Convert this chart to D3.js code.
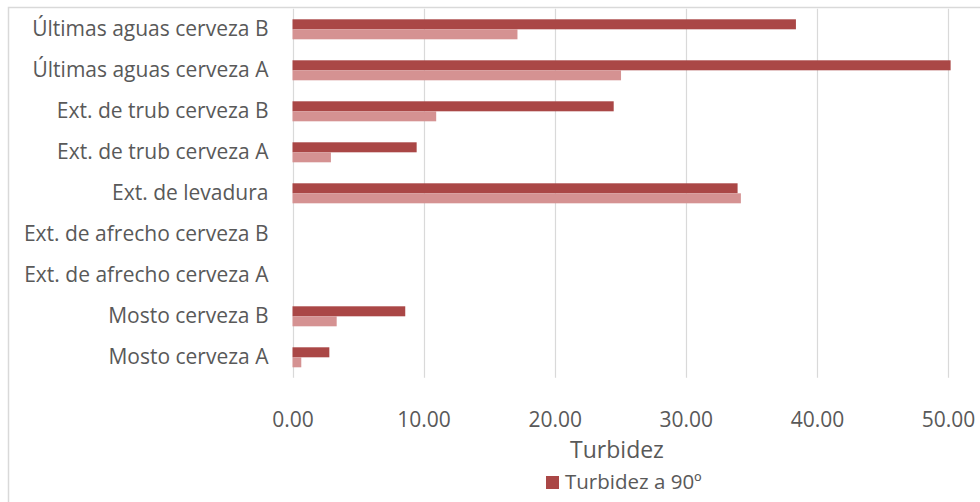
<!DOCTYPE html>
<html>
<head>
<meta charset="utf-8">
<script src="https://cdn.jsdelivr.net/npm/d3@7"></script>
<style>
  body { margin: 0; background: #fff; }
  svg { display: block; font-family: "Open Sans", "Noto Sans", sans-serif; }
</style>
</head>
<body>
<div id="chart"></div>
<script>
// categories, bottom to top as in the source sheet
var categories = [
  "Mosto cerveza A",
  "Mosto cerveza B",
  "Ext. de afrecho cerveza A",
  "Ext. de afrecho cerveza B",
  "Ext. de levadura",
  "Ext. de trub cerveza A",
  "Ext. de trub cerveza B",
  "Últimas aguas cerveza A",
  "Últimas aguas cerveza B"
];

// dark series (the one in the legend)
var turbidez90 = [2.81, 8.6, 0, 0, 33.95, 9.47, 24.5, 50.2, 38.4];
// light series
var turbidezB = [0.67, 3.37, 0, 0, 34.2, 2.93, 10.96, 25.06, 17.16];

var seriesNames = ["Turbidez a 90º", "Turbidez a 180º"];
var seriesColors = ["#AA4746", "#D59292"];
var xTicks = [0, 10, 20, 30, 40, 50];

var W = 980, H = 502;
var margin = {top: 8.8, left: 292.5, right: 32, bottom: 124.2};

var svg = d3.select("#chart")
  .append("svg")
    .attr("width", W)
    .attr("height", H);

// chart frame (runs off the window on the right and bottom)
svg.append("rect")
  .attr("x", 8.5)
  .attr("y", 7.5)
  .attr("width", 1000)
  .attr("height", 600)
  .attr("fill", "none")
  .attr("stroke", "#D9D9D9")
  .attr("stroke-width", 1.5);

var x = d3.scaleLinear()
  .domain([0, 50])
  .range([margin.left, W - margin.right]);

var y = d3.scaleBand()
  .domain(categories)
  .range([H - margin.bottom, margin.top]);

var ySub = d3.scaleBand()
  .domain(seriesNames)
  .range([0, y.bandwidth()])
  .paddingOuter(1.05);

// gridlines
svg.append("g")
  .selectAll("line")
  .data(xTicks)
  .enter()
  .append("line")
    .attr("x1", function(d) { return Math.round(x(d)) + 0.5; })
    .attr("x2", function(d) { return Math.round(x(d)) + 0.5; })
    .attr("y1", margin.top)
    .attr("y2", H - margin.bottom)
    .attr("stroke", "#D9D9D9")
    .attr("stroke-width", 1.2);

// x axis labels
var xAxis = svg.append("g")
  .attr("transform", "translate(0," + (H - margin.bottom) + ")")
  .call(d3.axisBottom(x).tickValues(xTicks).tickFormat(d3.format(".2f")).tickSize(0).tickPadding(34));
xAxis.select(".domain").remove();
xAxis.selectAll("text")
  .attr("font-family", "Open Sans, sans-serif")
  .attr("font-size", 21)
  .attr("fill", "#595959");

// y axis labels
var yAxis = svg.append("g")
  .attr("transform", "translate(" + margin.left + ",0)")
  .call(d3.axisLeft(y).tickSize(0).tickPadding(24));
yAxis.select(".domain").remove();
yAxis.selectAll("text")
  .attr("font-family", "Open Sans, sans-serif")
  .attr("font-size", 21)
  .attr("fill", "#595959");

// bars
var rows = categories.map(function(c, i) {
  return {cat: c, vals: [turbidez90[i], turbidezB[i]]};
});

var groups = svg.append("g")
  .selectAll("g")
  .data(rows)
  .enter()
  .append("g")
    .attr("transform", function(d) { return "translate(0," + y(d.cat) + ")"; });

groups.selectAll("rect")
  .data(function(d) { return d.vals.map(function(v, k) { return {name: seriesNames[k], v: v, k: k}; }); })
  .enter()
  .append("rect")
    .attr("x", x(0))
    .attr("y", function(d) { return ySub(d.name); })
    .attr("width", function(d) { return x(d.v) - x(0); })
    .attr("height", ySub.bandwidth())
    .attr("fill", function(d) { return seriesColors[d.k]; });

// axis title
svg.append("text")
  .attr("x", 617)
  .attr("y", 458)
  .attr("text-anchor", "middle")
  .attr("font-size", 23)
  .attr("fill", "#595959")
  .text("Turbidez");

// legend (only the first series is shown)
var legend = svg.append("g").attr("transform", "translate(546,476)");
legend.append("rect")
  .attr("width", 13)
  .attr("height", 13)
  .attr("fill", seriesColors[0]);
legend.append("text")
  .attr("x", 19)
  .attr("y", 13)
  .attr("font-size", 20.5)
  .attr("fill", "#595959")
  .text(seriesNames[0]);
</script>
</body>
</html>
